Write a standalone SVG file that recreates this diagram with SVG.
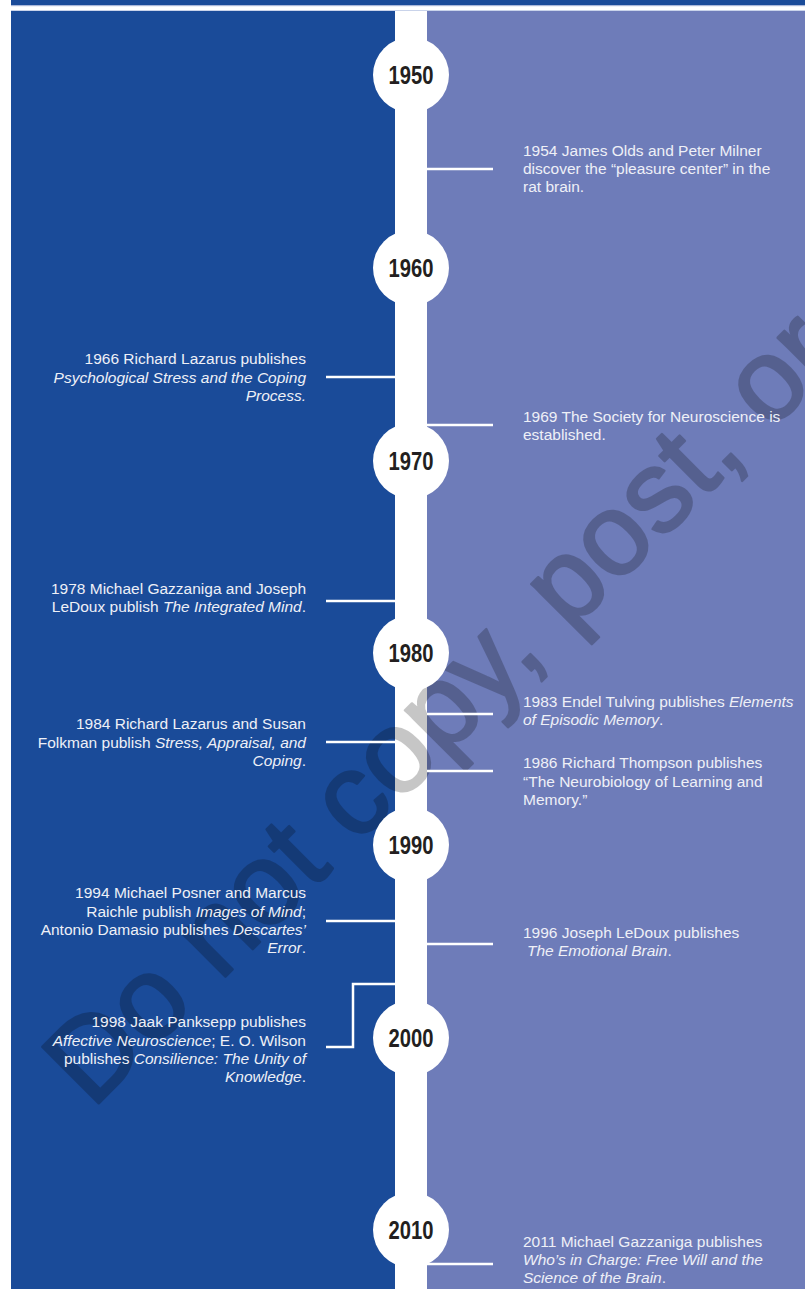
<svg xmlns="http://www.w3.org/2000/svg" width="805" height="1289" viewBox="0 0 805 1289">
<style>
.yr{font-family:"Liberation Sans",Arial,sans-serif;font-weight:bold;font-size:25px;fill:#231f20;text-anchor:middle}
.ev{font-family:"Liberation Sans",Arial,sans-serif;font-size:15.5px;fill:#eef0f7}
.l{text-anchor:end}
.i{font-style:italic}
.c{fill:#fff}
.cn{stroke:#fff;stroke-width:2.5;fill:none}
.wm{font-family:"Liberation Sans",Arial,sans-serif;font-size:116px;fill:#000;stroke:#000;stroke-width:2.5;stroke-linejoin:round}
</style>
<rect x="0" y="0" width="805" height="1289" fill="#fff"/>
<g id="background">
<rect x="11" y="0" width="794" height="5" fill="#1a4b99"/>
<rect x="11" y="5" width="794" height="1.2" fill="#a9b7d9"/>
<rect x="11" y="10" width="794" height="1" fill="#c9d3ea"/>
<rect x="11" y="11" width="384" height="1278" fill="#1a4b99"/>
<rect x="427" y="11" width="378" height="1278" fill="#6e7cb9"/>
<rect x="395" y="11" width="32" height="1278" fill="#fff"/>
</g>
<g id="watermark" opacity="0.22"><text class="wm" transform="translate(92,1110) rotate(-45)">Do not copy, post, or</text></g>
<g id="connectors">
<line class="cn" x1="427" y1="169" x2="493" y2="169"/>
<line class="cn" x1="326" y1="377" x2="395" y2="377"/>
<line class="cn" x1="427" y1="425" x2="493" y2="425"/>
<line class="cn" x1="326" y1="601" x2="395" y2="601"/>
<line class="cn" x1="427" y1="714" x2="493" y2="714"/>
<line class="cn" x1="326" y1="742" x2="395" y2="742"/>
<line class="cn" x1="427" y1="771" x2="493" y2="771"/>
<line class="cn" x1="326" y1="921" x2="395" y2="921"/>
<line class="cn" x1="427" y1="944" x2="493" y2="944"/>
<polyline class="cn" points="395,984 353,984 353,1047 326,1047"/>
<line class="cn" x1="427" y1="1264" x2="493" y2="1264"/>
</g>
<g id="y1950"><circle class="c" cx="411" cy="75" r="38"/><text class="yr" x="411" y="84" textLength="45" lengthAdjust="spacingAndGlyphs">1950</text></g>
<g id="y1960"><circle class="c" cx="411" cy="268" r="38"/><text class="yr" x="411" y="277" textLength="45" lengthAdjust="spacingAndGlyphs">1960</text></g>
<g id="y1970"><circle class="c" cx="411" cy="461" r="38"/><text class="yr" x="411" y="470" textLength="45" lengthAdjust="spacingAndGlyphs">1970</text></g>
<g id="y1980"><circle class="c" cx="411" cy="653" r="38"/><text class="yr" x="411" y="662" textLength="45" lengthAdjust="spacingAndGlyphs">1980</text></g>
<g id="y1990"><circle class="c" cx="411" cy="845" r="38"/><text class="yr" x="411" y="854" textLength="45" lengthAdjust="spacingAndGlyphs">1990</text></g>
<g id="y2000"><circle class="c" cx="411" cy="1038" r="38"/><text class="yr" x="411" y="1047" textLength="45" lengthAdjust="spacingAndGlyphs">2000</text></g>
<g id="y2010"><circle class="c" cx="411" cy="1230" r="38"/><text class="yr" x="411" y="1239" textLength="45" lengthAdjust="spacingAndGlyphs">2010</text></g>
<g id="e1954">
<text class="ev" x="523" y="156">1954 James Olds and Peter Milner</text>
<text class="ev" x="523" y="174">discover the “pleasure center” in the</text>
<text class="ev" x="523" y="192">rat brain.</text>
</g>
<g id="e1966">
<text class="ev l" x="306" y="364">1966 Richard Lazarus publishes</text>
<text class="ev l i" x="306" y="383">Psychological Stress and the Coping</text>
<text class="ev l i" x="306" y="401">Process.</text>
</g>
<g id="e1969">
<text class="ev" x="523" y="422">1969 The Society for Neuroscience is</text>
<text class="ev" x="523" y="440">established.</text>
</g>
<g id="e1978">
<text class="ev l" x="306" y="594">1978 Michael Gazzaniga and Joseph</text>
<text class="ev l" x="306" y="612">LeDoux publish <tspan class="i">The Integrated Mind</tspan>.</text>
</g>
<g id="e1983">
<text class="ev" x="523" y="707">1983 Endel Tulving publishes <tspan class="i">Elements</tspan></text>
<text class="ev" x="523" y="725"><tspan class="i">of Episodic Memory</tspan>.</text>
</g>
<g id="e1984">
<text class="ev l" x="306" y="729">1984 Richard Lazarus and Susan</text>
<text class="ev l" x="306" y="748">Folkman publish <tspan class="i">Stress, Appraisal, and</tspan></text>
<text class="ev l" x="306" y="766"><tspan class="i">Coping</tspan>.</text>
</g>
<g id="e1986">
<text class="ev" x="523" y="768">1986 Richard Thompson publishes</text>
<text class="ev" x="523" y="787">“The Neurobiology of Learning and</text>
<text class="ev" x="523" y="805">Memory.”</text>
</g>
<g id="e1994">
<text class="ev l" x="306" y="898">1994 Michael Posner and Marcus</text>
<text class="ev l" x="306" y="917">Raichle publish <tspan class="i">Images of Mind</tspan>;</text>
<text class="ev l" x="306" y="935">Antonio Damasio publishes <tspan class="i">Descartes’</tspan></text>
<text class="ev l" x="306" y="953"><tspan class="i">Error</tspan>.</text>
</g>
<g id="e1996">
<text class="ev" x="523" y="938">1996 Joseph LeDoux publishes</text>
<text class="ev" x="527" y="956"><tspan class="i">The Emotional Brain</tspan>.</text>
</g>
<g id="e1998">
<text class="ev l" x="306" y="1027">1998 Jaak Panksepp publishes</text>
<text class="ev l" x="306" y="1046"><tspan class="i">Affective Neuroscience</tspan>; E. O. Wilson</text>
<text class="ev l" x="306" y="1064">publishes <tspan class="i">Consilience: The Unity of</tspan></text>
<text class="ev l" x="306" y="1082"><tspan class="i">Knowledge</tspan>.</text>
</g>
<g id="e2011">
<text class="ev" x="523" y="1247">2011 Michael Gazzaniga publishes</text>
<text class="ev" x="523" y="1265"><tspan class="i">Who’s in Charge: Free Will and the</tspan></text>
<text class="ev" x="523" y="1283"><tspan class="i">Science of the Brain</tspan>.</text>
</g>
</svg>
